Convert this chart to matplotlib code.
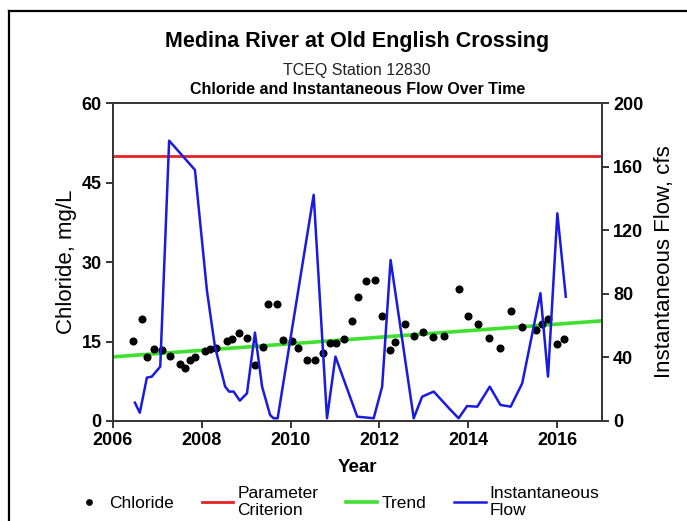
import matplotlib
matplotlib.use('Agg')
import matplotlib.pyplot as plt
from matplotlib.lines import Line2D

plt.rcParams['font.family'] = ['Liberation Sans', 'DejaVu Sans']

# chloride samples (year, mg/L)
cl_years = [2006.46, 2006.65, 2006.78, 2006.92, 2007.10, 2007.29, 2007.52, 2007.63,
            2007.74, 2007.86, 2008.08, 2008.19, 2008.33, 2008.56, 2008.68, 2008.83,
            2009.02, 2009.20, 2009.37, 2009.50, 2009.69, 2009.84, 2010.04, 2010.17,
            2010.37, 2010.54, 2010.73, 2010.88, 2011.02, 2011.20, 2011.39, 2011.52,
            2011.70, 2011.89, 2012.06, 2012.24, 2012.36, 2012.58, 2012.77, 2012.97,
            2013.20, 2013.45, 2013.78, 2013.99, 2014.21, 2014.46, 2014.71, 2014.95,
            2015.21, 2015.53, 2015.66, 2015.80, 2016.00, 2016.16]
cl_vals = [15.1, 19.3, 12.0, 13.5, 13.4, 12.3, 10.8, 10.0,
           11.6, 12.1, 13.2, 13.5, 13.7, 15.1, 15.4, 16.6,
           15.6, 10.6, 14.0, 22.0, 22.0, 15.3, 15.1, 13.7,
           11.6, 11.6, 12.8, 14.8, 14.8, 15.5, 18.8, 23.4,
           26.4, 26.6, 19.8, 13.4, 15.0, 18.4, 16.0, 16.8,
           15.9, 16.1, 24.9, 19.8, 18.4, 15.6, 13.8, 20.8,
           17.8, 17.2, 18.3, 19.3, 14.5, 15.4]

# instantaneous flow (year, cfs)
flow_years = [2006.50, 2006.61, 2006.77, 2006.88, 2007.07, 2007.27, 2007.85, 2008.12,
              2008.30, 2008.53, 2008.62, 2008.72, 2008.86, 2009.02, 2009.20, 2009.36,
              2009.54, 2009.62, 2009.71, 2010.52, 2010.82, 2011.01, 2011.50, 2011.87,
              2012.06, 2012.25, 2012.77, 2012.96, 2013.22, 2013.60, 2013.78, 2013.97,
              2014.20, 2014.48, 2014.72, 2014.95, 2015.21, 2015.62, 2015.79, 2016.00,
              2016.19]
flow_vals = [11.5, 5.2, 27.3, 27.9, 34.2, 176.4, 158.0, 82.0,
             46.8, 21.6, 18.5, 18.5, 12.8, 17.4, 55.6, 21.6,
             3.8, 1.7, 1.7, 142.3, 1.7, 40.5, 2.7, 1.7,
             21.6, 101.3, 1.7, 15.3, 18.5, 6.9, 1.7, 9.4,
             9.0, 21.6, 10.1, 9.0, 23.7, 80.4, 27.9, 130.7,
             78.2]

criterion = 50
trend_years = [2006, 2017]
trend_vals = [12.1, 18.9]

x_ticks = [2006, 2008, 2010, 2012, 2014, 2016]
cl_ticks = [0, 15, 30, 45, 60]
flow_ticks = [0, 40, 80, 120, 160, 200]

fig = plt.figure(figsize=(6.87, 5.21), dpi=100)
ax = fig.add_axes([0.164, 0.192, 0.712, 0.610])
ax2 = ax.twinx()

crit_line = ax.axhline(criterion, color='#e8202a', lw=2.0, label='Parameter\nCriterion')
trend_line, = ax.plot(trend_years, trend_vals, color='#40e030', lw=2.6, label='Trend')
flow_line, = ax2.plot(flow_years, flow_vals, color='#1a1ae0', lw=1.8, label='Instantaneous\nFlow')
cl_pts, = ax.plot(cl_years, cl_vals, 'o', color='black', ms=4.8, ls='none', label='Chloride', zorder=5)

ax.set_xlim(2006, 2017)
ax.set_ylim(0, 60)
ax2.set_ylim(0, 200)
ax.set_xticks(x_ticks)
ax.set_yticks(cl_ticks)
ax2.set_yticks(flow_ticks)

for a in (ax, ax2):
    a.tick_params(direction='out', length=5, width=1.1, labelsize=13, pad=3)
    for s in a.spines.values():
        s.set_linewidth(1.2)
        s.set_color('#333333')
for lab in ax.get_xticklabels() + ax.get_yticklabels() + ax2.get_yticklabels():
    lab.set_fontweight('bold')

ax.set_xlabel('Year', fontsize=13.5, fontweight='bold', labelpad=7)
ax.set_ylabel('Chloride, mg/L', fontsize=16, labelpad=3)
ax2.set_ylabel('Instantaneous Flow, cfs', fontsize=16, labelpad=8)

fig.text(0.52, 1 - 42 / 521, 'Medina River at Old English Crossing', ha='center', va='center',
         fontsize=15.5, fontweight='bold')
fig.text(0.52, 1 - 70 / 521, 'TCEQ Station 12830', ha='center', va='center', fontsize=11.5, color='#222222')
fig.text(0.52, 1 - 90 / 521, 'Chloride and Instantaneous Flow Over Time', ha='center', va='center',
         fontsize=11.5, fontweight='bold')

fig.legend([cl_pts, crit_line, trend_line, flow_line],
           ['Chloride', 'Parameter\nCriterion', 'Trend', 'Instantaneous\nFlow'],
           loc='center', bbox_to_anchor=(0.49, 1 - 502 / 521), ncol=4, frameon=False,
           fontsize=12.5, handlelength=1.8, handletextpad=0.25, columnspacing=1.6, markerscale=0.8,
           labelspacing=0.2)

# page border lines
fig.add_artist(Line2D([9 / 687, 9 / 687], [0, 1 - 11 / 521], transform=fig.transFigure, color='black', lw=1.6))
fig.add_artist(Line2D([9 / 687, 1], [1 - 11 / 521, 1 - 11 / 521], transform=fig.transFigure, color='black', lw=1.6))

fig.savefig('out.png', dpi=100)
